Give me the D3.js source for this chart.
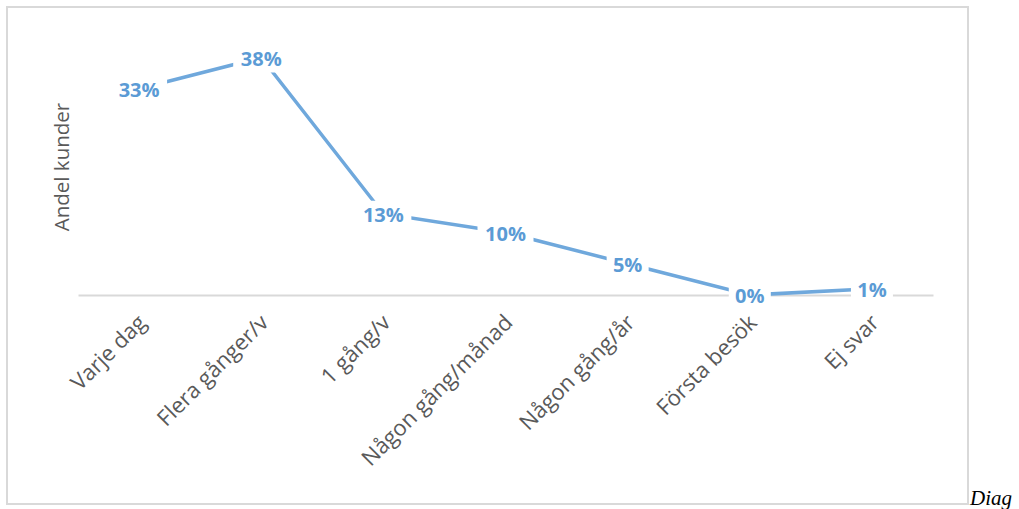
<!DOCTYPE html>
<html>
<head>
<meta charset="utf-8">
<script src="https://cdn.jsdelivr.net/npm/d3@7"></script>
<style>
  body { margin: 0; background: #fff; }
  svg { display: block; }
</style>
</head>
<body>
<svg id="chart"></svg>
<script>
const categories = ['Varje dag', 'Flera gånger/v', '1 gång/v', 'Någon gång/månad', 'Någon gång/år', 'Första besök', 'Ej svar'];
const shares = [33, 38, 13, 10, 5, 0, 1];
const labels = ['33%', '38%', '13%', '10%', '5%', '0%', '1%'];

const W = 1019, H = 509;
const margin = { top: 45, right: 86, bottom: 214, left: 78 };
const width = W - margin.left - margin.right;
const height = H - margin.top - margin.bottom;

const svg = d3.select('#chart').attr('width', W).attr('height', H);

// outer frame
svg.append('rect')
    .attr('x', 7).attr('y', 7)
    .attr('width', 961).attr('height', 497)
    .attr('fill', 'none')
    .attr('stroke', '#d9d9d9')
    .attr('stroke-width', 2);

svg.append('text')
    .attr('x', 970).attr('y', 505)
    .attr('font-family', 'Liberation Serif, serif')
    .attr('font-style', 'italic')
    .attr('font-size', 21)
    .attr('fill', '#000')
    .text('Diag');

const chart = svg.append('g')
    .attr('transform', `translate(${margin.left},${margin.top})`);

const xScale = d3.scalePoint()
    .domain(categories)
    .range([0, width])
    .padding(0.5);

const yScale = d3.scaleLinear()
    .domain([0, 40])
    .range([height, 0]);

// baseline axis
const xAxis = d3.axisBottom(xScale).tickSize(0).tickPadding(0);
const xAxisG = chart.append('g')
    .attr('transform', `translate(0,${height})`)
    .call(xAxis);
xAxisG.select('.domain')
    .attr('stroke', '#d9d9d9')
    .attr('stroke-width', 2);
xAxisG.selectAll('.tick text')
    .attr('font-family', 'Open Sans, sans-serif')
    .attr('font-size', 22)
    .attr('fill', '#595959')
    .attr('text-anchor', 'end')
    .attr('dy', null)
    .attr('transform', 'translate(8,29) rotate(-45)');

chart.append('text')
    .attr('transform', `translate(-9,${yScale(20) - 3}) rotate(-90)`)
    .attr('text-anchor', 'middle')
    .attr('font-family', 'Open Sans, sans-serif')
    .attr('font-size', 20.5)
    .attr('fill', '#595959')
    .text('Andel kunder');

const line = d3.line()
    .x((d, i) => xScale(categories[i]))
    .y(d => yScale(d));

chart.append('path')
    .datum(shares)
    .attr('fill', 'none')
    .attr('stroke', '#6fa8dc')
    .attr('stroke-width', 3.5)
    .attr('d', line);

const lbl = chart.selectAll('.lbl')
    .data(shares)
    .join('g')
    .attr('class', 'lbl')
    .attr('transform', (d, i) => `translate(${xScale(categories[i])},${yScale(d) + 1})`);

lbl.append('rect')
    .attr('x', (d, i) => -labels[i].length * 7 - 7)
    .attr('y', -14)
    .attr('width', (d, i) => labels[i].length * 14 + 14)
    .attr('height', 28)
    .attr('fill', '#fff');

lbl.append('text')
    .attr('text-anchor', 'middle')
    .attr('dy', '0.35em')
    .attr('font-family', 'Open Sans, sans-serif')
    .attr('font-weight', 'bold')
    .attr('font-size', 20)
    .attr('fill', '#5b9bd5')
    .text((d, i) => labels[i]);
</script>
</body>
</html>
